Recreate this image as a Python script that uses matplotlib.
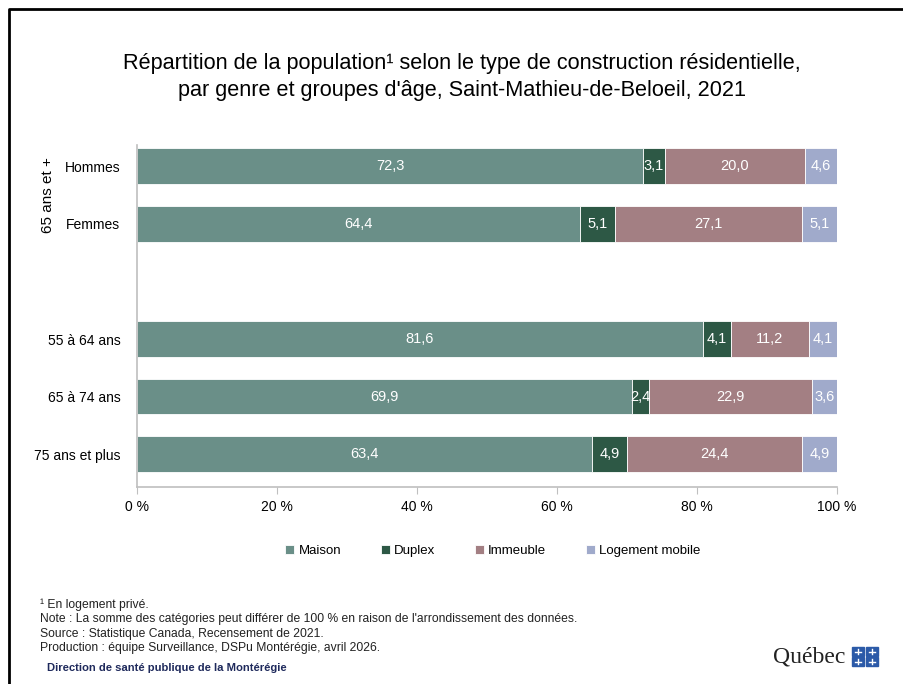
import numpy as np
import matplotlib.pyplot as plt
from matplotlib.lines import Line2D
from matplotlib.patches import Rectangle

# Data
categories = ["Hommes", "Femmes", "55 à 64 ans", "65 à 74 ans", "75 ans et plus"]
positions = [0, 1, 3, 4, 5]
series_names = ["Maison", "Duplex", "Immeuble", "Logement mobile"]
maison = [72.3, 64.4, 81.6, 69.9, 63.4]
duplex = [3.1, 5.1, 4.1, 2.4, 4.9]
immeuble = [20.0, 27.1, 11.2, 22.9, 24.4]
mobile = [4.6, 5.1, 4.1, 3.6, 4.9]
xticks = [0, 20, 40, 60, 80, 100]
colors = ["#6A8F88", "#2D5845", "#A37F83", "#A0AACB"]

title = ("Répartition de la population¹ selon le type de construction résidentielle,\n"
         "par genre et groupes d'âge, Saint-Mathieu-de-Beloeil, 2021")
notes = ["¹ En logement privé.",
         "Note : La somme des catégories peut différer de 100 % en raison de l'arrondissement des données.",
         "Source : Statistique Canada, Recensement de 2021.",
         "Production : équipe Surveillance, DSPu Montérégie, avril 2026."]

plt.rcParams['font.family'] = ['Liberation Sans', 'DejaVu Sans']

fig = plt.figure(figsize=(9.04, 6.84), dpi=100)
ax = fig.add_axes([0.1515, 0.288, 0.7744, 0.5])

values = np.array([maison, duplex, immeuble, mobile])
totals = values.sum(axis=0)
shares = values / totals * 100  # bars fill 100 %, labels keep rounded values

left = np.zeros(len(categories))
for i, name in enumerate(series_names):
    ax.barh(positions, shares[i], left=left, height=0.62, color=colors[i],
            edgecolor="white", linewidth=0.6, label=name)
    for p, l, w, v in zip(positions, left, shares[i], values[i]):
        ax.text(l + w / 2, p, f"{v:.1f}".replace(".", ","), ha="center", va="center",
                color="white", fontsize=10.5)
    left += shares[i]

ax.set_xlim(0, 100)
ax.set_ylim(5.57, -0.37)
ax.set_yticks(positions)
ax.set_yticklabels(categories, fontsize=10)
ax.tick_params(axis="y", length=0, pad=12)
ax.set_xticks(xticks)
ax.set_xticklabels([f"{t} %" for t in xticks], fontsize=10)
ax.tick_params(axis="x", length=5, color="#BFBFBF", pad=4)
for s in ["top", "right"]:
    ax.spines[s].set_visible(False)
for s in ["left", "bottom"]:
    ax.spines[s].set_color("#BFBFBF")
    ax.spines[s].set_linewidth(1.2)

# group label
fig.text(0.053, 1 - 195 / 684, "65 ans et +", rotation=90, ha="center", va="center", fontsize=11)

fig.text(0.511, 1 - 77 / 684, title, ha="center", va="center", fontsize=15.6, linespacing=1.35)

leg = fig.legend(loc="center", bbox_to_anchor=(0.545, 1 - 551 / 684), ncol=4, frameon=False,
                 fontsize=9.5, handlelength=0.7, handleheight=0.7, handletextpad=0.3,
                 columnspacing=3.0)

for k, line in enumerate(notes):
    fig.text(0.044, 1 - (605 + 14.3 * k) / 684, line, fontsize=8.7, color="#222222", va="center")
fig.text(0.052, 1 - 668 / 684, "Direction de santé publique de la Montérégie", fontsize=8.1,
         color="#1F2A5C", fontweight="bold", va="center")

# Québec logo
fig.text(0.935, 1 - 657 / 684, "Québec", ha="right", va="center", fontsize=17,
         family=['Liberation Serif', 'DejaVu Serif'], color="#222222")
for cx in (852, 866):
    for cy in (647, 657):
        fig.add_artist(Rectangle((cx / 904, 1 - (cy + 9) / 684), 12 / 904, 9 / 684,
                                 transform=fig.transFigure, color="#2B5AA8"))
        fig.add_artist(Line2D([(cx + 6) / 904] * 2, [1 - (cy + 7) / 684, 1 - (cy + 2) / 684],
                              transform=fig.transFigure, color="white", lw=1))
        fig.add_artist(Line2D([(cx + 3) / 904, (cx + 9) / 904], [1 - (cy + 4.5) / 684] * 2,
                              transform=fig.transFigure, color="white", lw=1))

# frame at left and top
fig.add_artist(Line2D([9 / 904, 9 / 904, 1], [0, 1 - 9 / 684, 1 - 9 / 684],
                      transform=fig.transFigure, color="black", lw=2))

fig.savefig("out.png", dpi=100)
